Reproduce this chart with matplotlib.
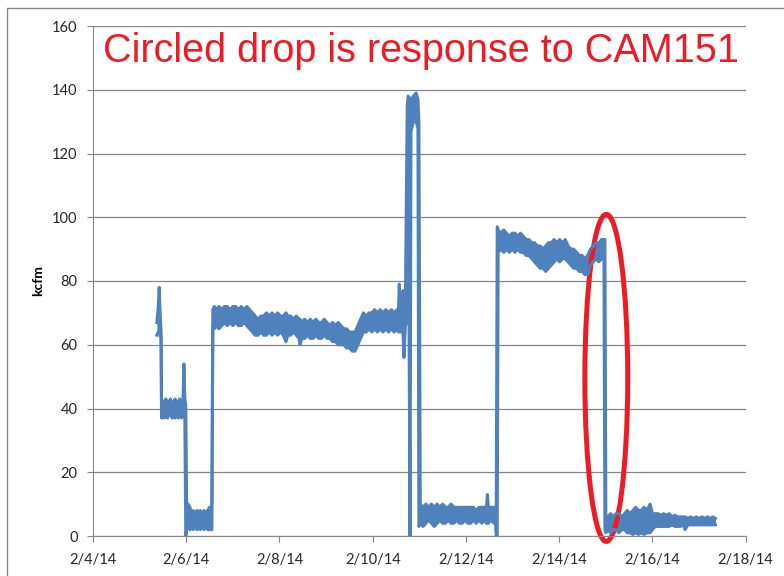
import numpy as np
import matplotlib
matplotlib.use("Agg")
import matplotlib.pyplot as plt
import matplotlib.dates as mdates
from matplotlib.patches import Ellipse, Rectangle

# Flow record, days after 2014-02-04 with the low/high edge of the noisy trace (kcfm)
day = [1.37, 1.40, 1.42, 1.44, 1.46, 1.47, 1.50, 1.53, 1.56, 1.60, 1.63, 1.66, 1.70, 1.73, 1.76,
       1.80, 1.83, 1.86, 1.90, 1.93, 1.95, 1.97, 1.99, 2.01, 2.04, 2.08, 2.11, 2.15, 2.19, 2.23,
       2.27, 2.30, 2.34, 2.38, 2.42, 2.46, 2.50, 2.53, 2.55, 2.57,
       2.60, 2.66, 2.70, 2.76, 2.82, 2.88, 2.94, 3.00, 3.06, 3.12, 3.18, 3.24, 3.30, 3.36, 3.42,
       3.48, 3.54, 3.60, 3.66, 3.72, 3.78, 3.84, 3.90, 3.96, 4.02, 4.08, 4.14, 4.18, 4.24, 4.30,
       4.36, 4.42, 4.44, 4.48, 4.54, 4.60, 4.66, 4.72, 4.78, 4.84, 4.90, 4.96, 5.02, 5.08, 5.14,
       5.20, 5.26, 5.32, 5.38, 5.44, 5.50, 5.56, 5.62, 5.68, 5.74, 5.80, 5.86, 5.92, 5.98, 6.04,
       6.10, 6.16, 6.22, 6.28, 6.34, 6.40, 6.46, 6.52, 6.55, 6.57, 6.59, 6.63, 6.65, 6.67, 6.70,
       6.74, 6.76, 6.80, 6.82, 6.87, 6.93, 6.97, 6.99,
       7.02, 7.08, 7.14, 7.20, 7.26, 7.32, 7.38, 7.44, 7.50, 7.56, 7.62, 7.68, 7.74, 7.80, 7.86,
       7.92, 7.98, 8.04, 8.10, 8.16, 8.22, 8.28, 8.34, 8.40, 8.44, 8.46, 8.48, 8.54, 8.60, 8.63,
       8.65, 8.67, 8.69,
       8.75, 8.81, 8.87, 8.93, 8.99, 9.05, 9.11, 9.17, 9.23, 9.29, 9.35, 9.41, 9.47, 9.53, 9.59,
       9.65, 9.71, 9.77, 9.83, 9.89, 9.95, 10.01, 10.07, 10.13, 10.19, 10.25, 10.31, 10.37, 10.43,
       10.49, 10.55, 10.61, 10.67, 10.73, 10.79, 10.85, 10.91, 10.96, 10.98, 11.00,
       11.04, 11.10, 11.16, 11.22, 11.28, 11.34, 11.40, 11.46, 11.52, 11.58, 11.64, 11.70, 11.76,
       11.82, 11.88, 11.95, 12.00, 12.06, 12.12, 12.18, 12.24, 12.30, 12.36, 12.42, 12.48, 12.54,
       12.60, 12.66, 12.70, 12.76, 12.82, 12.88, 12.94, 13.00, 13.06, 13.12, 13.18, 13.24, 13.30, 13.35]
low = [63, 64, 64, 63, 62, 37, 38, 37, 38, 37, 39, 38, 37, 38, 37,
       38, 37, 38, 37, 38, 38, 37, 0, 2, 3, 2, 3, 2, 3, 2,
       3, 2, 3, 2, 3, 2, 2, 2, 2, 66,
       65, 66, 65, 66, 67, 66, 67, 66, 67, 66, 66, 67, 66, 65, 64,
       63, 63, 64, 63, 63, 64, 63, 64, 63, 64, 63, 61, 63, 63, 64,
       63, 62, 60, 62, 62, 63, 62, 62, 63, 62, 62, 63, 62, 62, 61,
       61, 60, 60, 60, 59, 59, 58, 58, 60, 62, 64, 64, 65, 64, 65,
       64, 65, 64, 65, 64, 65, 64, 65, 64, 65, 64, 64, 64, 56, 66,
       67, 127, 0, 127, 130, 130, 128, 3,
       4, 3, 4, 5, 4, 3, 4, 5, 4, 4, 5, 4, 4, 5, 4,
       4, 5, 4, 4, 5, 4, 5, 4, 5, 4, 4, 4, 5, 4, 5,
       0, 0, 89,
       90, 89, 90, 89, 90, 89, 90, 89, 89, 88, 88, 87, 86, 85, 84,
       84, 83, 84, 85, 86, 87, 86, 87, 87, 86, 85, 84, 84, 83,
       83, 82, 82, 85, 86, 87, 86, 87, 87, 2, 1,
       2, 1, 2, 2, 1, 2, 2, 1, 1, 0.5, 1, 0.5, 1,
       0.5, 1, 1, 2, 3, 3, 3, 3, 3, 3, 3.5, 3, 3,
       3, 3.5, 2, 3.5, 3.5, 3.5, 3.5, 3.5, 3.5, 3.5, 3.5, 3.5, 3.5, 3.5]
high = [67, 72, 78, 70, 64, 43, 42, 41, 43, 42, 42, 43, 41, 42, 43,
        42, 41, 43, 42, 42, 54, 43, 41, 8, 10, 9, 7, 8, 7, 8,
        7, 8, 7, 8, 7, 8, 9, 8, 10, 71,
        72, 71, 72, 71, 72, 72, 71, 72, 72, 71, 72, 71, 72, 71, 70,
        69, 68, 69, 69, 70, 69, 70, 69, 70, 69, 69, 70, 69, 69, 68,
        69, 68, 68, 67, 68, 67, 68, 67, 68, 67, 67, 68, 67, 66, 67,
        66, 67, 66, 65, 65, 64, 64, 64, 66, 68, 70, 69, 70, 70, 71,
        70, 71, 70, 71, 70, 71, 70, 71, 70, 79, 70, 72, 77, 72, 72,
        135, 138, 137, 137, 138, 139, 137, 130,
        10, 9, 10, 9, 10, 9, 10, 9, 10, 9, 9, 10, 9, 9, 9,
        9, 9, 9, 9, 9, 8, 9, 9, 9, 9, 13, 9, 9, 9, 9,
        9, 97, 96,
        95, 96, 95, 94, 95, 95, 94, 95, 94, 93, 93, 92, 92, 91, 91,
        90, 91, 92, 92, 93, 92, 93, 92, 93, 91, 90, 90, 89, 88,
        88, 87, 88, 90, 91, 92, 92, 93, 93, 93, 6,
        6, 7, 6, 7, 7, 6, 7, 8, 7, 8, 9, 8, 8,
        9, 8, 10, 7, 7, 7, 6.5, 7, 6.5, 7, 6, 6.5, 6,
        6, 6, 6, 5.5, 6, 5.5, 6, 5.5, 6, 5.5, 6, 5.5, 6, 5.5]

y_ticks = [0, 20, 40, 60, 80, 100, 120, 140, 160]

base = np.datetime64("2014-02-04T00:00")
t = base + (np.array(day) * 86400).astype("timedelta64[s]")

blue = "#4F81BD"
grey = "#868686"
plt.rcParams["font.family"] = ["Lato", "DejaVu Sans"]

fig = plt.figure(figsize=(7.84, 5.76), dpi=100)
ax = fig.add_axes([93 / 784, 40 / 576, 652.7 / 784, 510 / 576])

# noisy band plus its edges so the jumps show as vertical strokes
ax.fill_between(t, low, high, color=blue, lw=0)
ax.plot(t, low, color=blue, lw=2.2)
ax.plot(t, high, color=blue, lw=2.2)

ax.set_ylim(0, 160)
ax.set_yticks(y_ticks)
ax.set_xlim(np.datetime64("2014-02-04"), np.datetime64("2014-02-18"))
ax.xaxis.set_major_locator(mdates.DayLocator(interval=2))
ax.xaxis.set_major_formatter(
    plt.FuncFormatter(lambda v, p: "{0.month}/{0.day}/{1}".format(mdates.num2date(v), mdates.num2date(v).strftime("%y"))))

ax.grid(axis="y", color=grey, lw=0.9)
ax.set_axisbelow(True)
for s in ["top", "right"]:
    ax.spines[s].set_visible(False)
for s in ["left", "bottom"]:
    ax.spines[s].set_color(grey)
ax.tick_params(axis="both", colors=grey, labelcolor="#262626", labelsize=10.5, length=4)
ax.tick_params(axis="y", pad=7)
ax.tick_params(axis="x", pad=8)

fig.text(38 / 784, 1 - 281 / 576, "kcfm", fontsize=10, fontweight="bold", rotation=90,
         ha="center", va="center")

# red ring around the drop on 2/15
x0 = mdates.date2num(base)
ax.add_patch(Ellipse((x0 + 11.01, 49.6), 0.92, 102.6, fill=False, ec="#ED1C24", lw=3.6, clip_on=False))

fig.text(421 / 784, 1 - 51 / 576, "Circled drop is response to CAM151", color="#ED1C24",
         fontsize=28.5, family="Liberation Sans", ha="center", va="center")

# chart frame
fig.patches.append(Rectangle((7 / 784, -0.1), 1.2, 1.1 - 8 / 576, transform=fig.transFigure,
                             fill=False, ec=grey, lw=1))

fig.savefig("out.png", dpi=100)
